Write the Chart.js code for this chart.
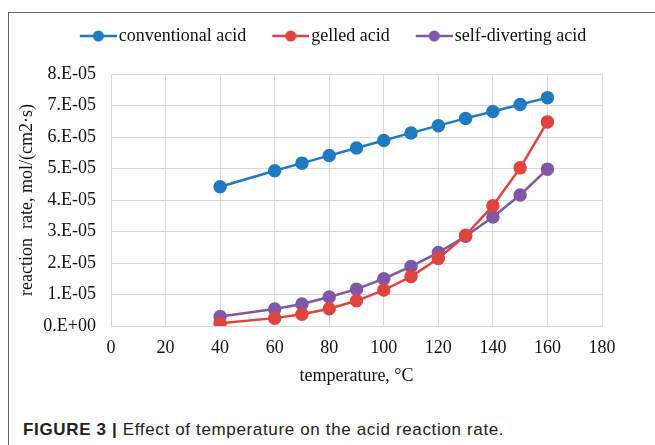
<!DOCTYPE html>
<html>
<head>
<meta charset="utf-8">
<script src="https://cdn.jsdelivr.net/npm/chart.js@4"></script>
<style>
  html, body { margin: 0; padding: 0; background: #fff; }
  #wrap { position: relative; width: 655px; height: 445px; overflow: hidden; }
  #frame { position: absolute; left: 8px; top: 12px; width: 660px; height: 450px;
           border-top: 1px solid #666; border-left: 1px solid #666; }
  #chartBox { position: absolute; left: 0; top: 0; width: 655px; height: 400px; }
  #caption { position: absolute; left: 23px; top: 420px; font-family: "Liberation Sans", Arial, sans-serif;
             font-size: 17px; letter-spacing: 0.65px; color: #222; white-space: nowrap; }
  #caption b { font-weight: bold; }
</style>
</head>
<body>
<div id="wrap">
  <div id="frame"></div>
  <div id="chartBox"><canvas id="rateChart" width="655" height="400"></canvas></div>
  <div id="caption"><b>FIGURE 3 |</b> Effect of temperature on the acid reaction rate.</div>
</div>
<script>
// ===== DATA =====
var temps = [40, 60, 70, 80, 90, 100, 110, 120, 130, 140, 150, 160];
var conventional = [4.42e-5, 4.93e-5, 5.17e-5, 5.41e-5, 5.65e-5, 5.89e-5, 6.13e-5, 6.36e-5, 6.59e-5, 6.81e-5, 7.03e-5, 7.25e-5];
var gelled = [0.09e-5, 0.25e-5, 0.375e-5, 0.55e-5, 0.80e-5, 1.14e-5, 1.57e-5, 2.14e-5, 2.88e-5, 3.82e-5, 5.02e-5, 6.48e-5];
var selfDiverting = [0.30e-5, 0.54e-5, 0.70e-5, 0.92e-5, 1.17e-5, 1.50e-5, 1.89e-5, 2.33e-5, 2.85e-5, 3.46e-5, 4.16e-5, 4.98e-5];
var seriesNames = ["conventional acid", "gelled acid", "self-diverting acid"];
var seriesColors = ["#1f7ac0", "#e0443f", "#7f58a8"];
var yTickLabels = ["0.E+00", "1.E-05", "2.E-05", "3.E-05", "4.E-05", "5.E-05", "6.E-05", "7.E-05", "8.E-05"];

var SERIF = "'Liberation Serif', 'Times New Roman', serif";

function toPoints(ys) {
    var pts = [];
    for (var i = 0; i < temps.length; i++) pts.push({ x: temps[i], y: ys[i] });
    return pts;
}

// legend marker: short line with a dot, right-aligned inside a wider canvas
function makeMarker(color) {
    var c = document.createElement("canvas");
    c.width = 42; c.height = 14;
    var g = c.getContext("2d");
    g.strokeStyle = color; g.lineWidth = 2.5;
    g.beginPath(); g.moveTo(5, 7); g.lineTo(42, 7); g.stroke();
    g.fillStyle = color;
    g.beginPath(); g.arc(23.5, 7, 5.5, 0, Math.PI * 2); g.fill();
    return c;
}

var allSeries = [conventional, gelled, selfDiverting];
var datasets = [];
for (var s = 0; s < allSeries.length; s++) {
    datasets.push({
        label: seriesNames[s],
        data: toPoints(allSeries[s]),
        borderColor: seriesColors[s],
        backgroundColor: seriesColors[s],
        borderWidth: 2.5,
        pointRadius: 5.5,
        pointHoverRadius: 5.5,
        pointStyle: "circle",
        tension: 0
    });
}

// legend: a bit more room below it and shifted to the right, as in the original figure
var legendTweak = {
    id: "legendTweak",
    beforeInit: function(chart) {
        var origFit = chart.legend.fit;
        chart.legend.fit = function() {
            origFit.call(this);
            this.height += 19;
        };
    },
    afterLayout: function(chart) {
        chart.legend.left += 28;
        chart.legend.right += 28;
    }
};

new Chart(document.getElementById("rateChart"), {
    type: "line",
    data: { datasets: datasets },
    plugins: [legendTweak],
    options: {
        responsive: false,
        animation: false,
        layout: { padding: { left: 10, right: 53, top: -1, bottom: 0 } },
        plugins: {
            tooltip: { enabled: false },
            legend: {
                position: "top",
                labels: {
                    font: { family: SERIF, size: 18 },
                    color: "#111",
                    usePointStyle: true,
                    pointStyleWidth: 28,
                    boxHeight: 14,
                    padding: 28,
                    generateLabels: function(chart) {
                        return chart.data.datasets.map(function(ds, i) {
                            return {
                                text: ds.label,
                                pointStyle: makeMarker(seriesColors[i]),
                                fillStyle: seriesColors[i],
                                strokeStyle: seriesColors[i],
                                fontColor: "#111",
                                lineWidth: 0,
                                datasetIndex: i
                            };
                        });
                    }
                }
            }
        },
        scales: {
            x: {
                type: "linear",
                min: 0, max: 180,
                ticks: { stepSize: 20, font: { family: SERIF, size: 18 }, color: "#111", padding: 11 },
                grid: { color: "#d9d9d9", drawTicks: false },
                border: { color: "#d9d9d9" },
                title: { display: true, text: "temperature, \u00b0C", font: { family: SERIF, size: 18 }, color: "#111", padding: { top: 0, bottom: 13 } },
                afterFit: function(scale) { scale.height = 74; }
            },
            y: {
                min: 0, max: 8e-5,
                ticks: {
                    stepSize: 1e-5,
                    font: { family: SERIF, size: 18 }, color: "#111", padding: 15,
                    callback: function(v, idx) { return yTickLabels[idx]; }
                },
                grid: { color: "#d9d9d9", drawTicks: false },
                border: { color: "#d9d9d9" },
                title: { display: true, text: "reaction  rate, mol/(cm2\u00b7s)", font: { family: SERIF, size: 18 }, color: "#111", padding: { top: 6, bottom: 0 } },
                afterFit: function(scale) { scale.width = 101; }
            }
        }
    }
});
</script>
</body>
</html>
